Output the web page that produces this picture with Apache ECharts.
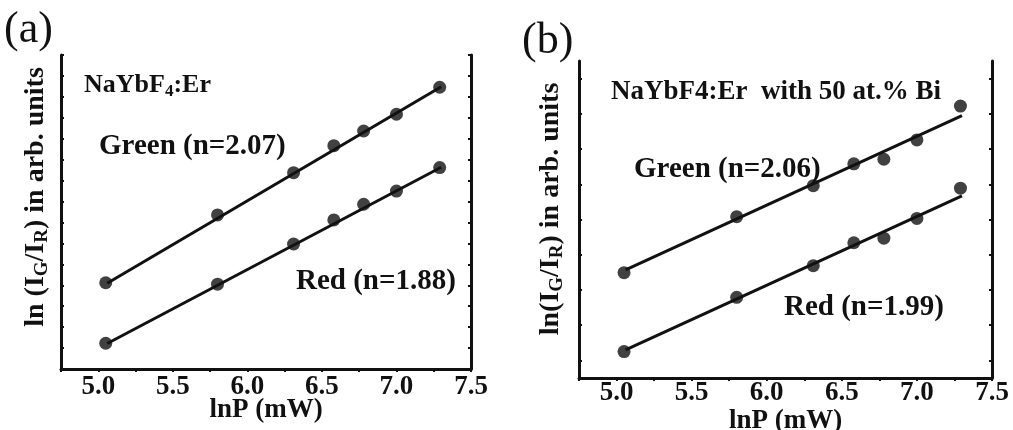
<!DOCTYPE html>
<html>
<head>
<meta charset="utf-8">
<script src="https://cdn.jsdelivr.net/npm/echarts@6/dist/echarts.min.js"></script>
<style>
html,body{margin:0;padding:0;background:#fff;}
#chart{width:1013px;height:430px;}
</style>
</head>
<body>
<div id="chart"></div>
<script>
// ---- data ----
const lnP = [5.05, 5.80, 6.31, 6.58, 6.78, 7.00, 7.29];
const greenA = [4.12, 7.36, 9.38, 10.67, 11.37, 12.17, 13.46];
const redA = [1.23, 4.05, 5.97, 7.12, 7.87, 8.50, 9.62];
const greenB = [2.99, 4.58, 5.46, 6.08, 6.21, 6.76, 7.72];
const redB = [0.75, 2.29, 3.19, 3.84, 3.97, 4.53, 5.39];
const fitX = [5.06, 7.30];
const greenFitA = [4.10, 13.48];
const redFitA = [1.22, 9.64];
const greenFitB = [3.07, 7.45];
const redFitB = [0.80, 5.17];
const xTickLabels = ['5.0', '5.5', '6.0', '6.5', '7.0', '7.5'];
const yTicksB = [0.5, 1.5, 2.5, 3.5, 4.5, 5.5, 6.5, 7.5, 8.5];

const SERIF = "'Liberation Serif','Times New Roman',serif";
const pair = (xs, ys) => xs.map((x, i) => [x, ys[i]]);

function xAxis(gridIndex, labelMargin, nameGap) {
  return {
    type: 'value', gridIndex, min: 4.75, max: 7.5, interval: 0.25,
    axisLine: { show: true, onZero: false, lineStyle: { color: '#111', width: 3 } },
    axisTick: { show: true, inside: false, length: 3, lineStyle: { color: '#111', width: 2 } },
    splitLine: { show: false },
    axisLabel: {
      margin: labelMargin, color: '#111', fontFamily: SERIF, fontWeight: 'bold', fontSize: 27,
      formatter: v => { const s = v.toFixed(2).replace(/0$/, ''); return xTickLabels.includes(s) ? s : ''; }
    },
    name: 'lnP (mW)', nameLocation: 'middle', nameGap, nameMoveOverlap: false,
    nameTextStyle: { color: '#111', fontFamily: SERIF, fontWeight: 'bold', fontSize: 27 }
  };
}
function yAxis(gridIndex, max, interval, pos, custom) {
  const tick = { show: true, inside: true, length: 3, lineStyle: { color: '#111', width: 2 } };
  if (custom) tick.customValues = custom;
  return {
    type: 'value', gridIndex, min: 0, max, interval, position: pos,
    axisLine: { show: true, onZero: false, lineStyle: { color: '#111', width: 3 } },
    axisTick: tick,
    axisLabel: { show: false },
    splitLine: { show: false }
  };
}
function pts(xi, yi, data) {
  return { type: 'scatter', xAxisIndex: xi, yAxisIndex: yi, data, symbol: 'circle', symbolSize: 13,
    itemStyle: { color: '#111' }, z: 3 };
}
function fit(xi, yi, ys) {
  return { type: 'line', xAxisIndex: xi, yAxisIndex: yi, data: pair(fitX, ys), showSymbol: false,
    lineStyle: { color: '#111', width: 3 }, z: 2, animation: false };
}
const txt = (t, x, y, size, extra) => ({
  type: 'text', x, y, style: Object.assign({ text: t, fontFamily: SERIF, fontWeight: 'bold', fontSize: size,
    fill: '#111', align: 'left', verticalAlign: 'middle' }, extra || {})
});
const subRich = {
  s: { fontFamily: SERIF, fontWeight: 'bold', fontSize: 19, fill: '#111', verticalAlign: 'bottom', lineHeight: 32, padding: [13, 0, 0, 0] },
  m: { fontFamily: SERIF, fontWeight: 'bold', fontSize: 28, fill: '#111', lineHeight: 32 }
};

const chart = echarts.init(document.getElementById('chart'), null, { renderer: 'canvas' });
chart.setOption({
  animation: false,
  backgroundColor: '#fff',
  grid: [
    { left: 61, top: 55, right: 542, bottom: 61, containLabel: false, outerBoundsMode: 'none' },
    { left: 579, top: 61, right: 21, bottom: 52, containLabel: false, outerBoundsMode: 'none' }
  ],
  xAxis: [xAxis(0, 5, 28), xAxis(1, 2, 30)],
  yAxis: [
    yAxis(0, 15, 1, 'left'), yAxis(0, 15, 1, 'right'),
    yAxis(1, 9, 1, 'left', yTicksB), yAxis(1, 9, 1, 'right', yTicksB)
  ],
  series: [
    fit(0, 0, greenFitA), fit(0, 0, redFitA),
    pts(0, 0, pair(lnP, greenA)), pts(0, 0, pair(lnP, redA)),
    fit(1, 2, greenFitB), fit(1, 2, redFitB),
    pts(1, 2, pair(lnP, greenB)), pts(1, 2, pair(lnP, redB))
  ],
  graphic: [
    txt('(a)', 4, 30, 44, { fontWeight: 'normal' }),
    txt('(b)', 522, 41, 44, { fontWeight: 'normal' }),
    { type: 'text', x: 84, y: 85, style: { text: '{m|NaYbF}{s|4}{m|:Er}', rich: {
      s: { fontFamily: SERIF, fontWeight: 'bold', fontSize: 17, fill: '#111', verticalAlign: 'bottom', lineHeight: 30, padding: [12, 0, 0, 0] },
      m: { fontFamily: SERIF, fontWeight: 'bold', fontSize: 26, fill: '#111', lineHeight: 30 } }, align: 'left', verticalAlign: 'middle' } },
    txt('Green (n=2.07)', 99, 147, 29),
    txt('Red (n=1.88)', 296, 282, 29),
    txt('NaYbF4:Er  with 50 at.% Bi', 611, 92, 27),
    txt('Green (n=2.06)', 634, 170, 29),
    txt('Red (n=1.99)', 784, 308, 29),
    { type: 'text', x: 36, y: 197, rotation: Math.PI / 2,
      style: { text: '{m|ln (I}{s|G}{m|/I}{s|R}{m|) in arb. units}', rich: subRich, align: 'center', verticalAlign: 'middle' } },
    { type: 'text', x: 551, y: 209, rotation: Math.PI / 2,
      style: { text: '{m|ln(I}{s|G}{m|/I}{s|R}{m|) in arb. units}', rich: subRich, align: 'center', verticalAlign: 'middle' } }
  ]
});
</script>
</body>
</html>
